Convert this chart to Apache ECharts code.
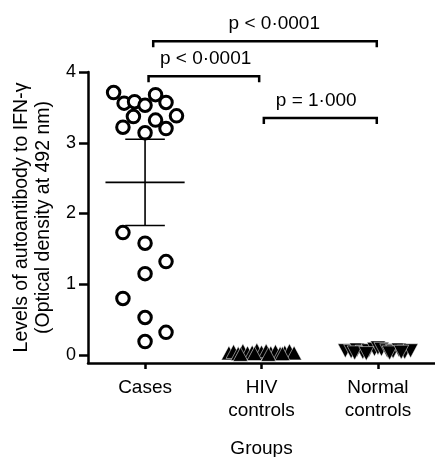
<!DOCTYPE html>
<html><head><meta charset="utf-8">
<script src="https://cdn.jsdelivr.net/npm/echarts@6/dist/echarts.min.js"></script>
<style>html,body{margin:0;padding:0;background:#fff}#c{width:435px;height:457px}</style>
</head><body><div id="c"></div>
<script>
// ---- data ----
const categories = ['Cases', 'HIV\ncontrols', 'Normal\ncontrols'];
const yTickValues = [0, 1, 2, 3, 4];

// Cases (group 0): jitter offsets and OD values
const casesOffsets = [-0.27, -0.18, -0.09, 0.00, 0.09, 0.18, 0.27, -0.10, 0.09, -0.19, 0.00, 0.18, -0.19, 0.00, 0.18, 0.00, -0.19, 0.00, 0.18, 0.00];
const casesValues  = [3.71, 3.56, 3.58, 3.53, 3.68, 3.57, 3.38, 3.37, 3.32, 3.22, 3.14, 3.20, 1.73, 1.58, 1.32, 1.15, 0.80, 0.53, 0.32, 0.19];

// HIV controls (group 1)
const hivOffsets = [-0.28, -0.24, -0.20, -0.16, -0.12, -0.08, -0.04, 0.00, 0.04, 0.08, 0.12, 0.16, 0.20, 0.24, 0.28, -0.18, -0.06, 0.06, 0.18];
const hivValues  = [0.03, 0.05, 0.02, 0.06, 0.03, 0.04, 0.07, 0.04, 0.06, 0.03, 0.05, 0.02, 0.04, 0.06, 0.03, 0.01, 0.02, 0.01, 0.02];

// Normal controls (group 2)
const normalOffsets = [-0.28, -0.23, -0.18, -0.13, -0.08, -0.03, 0.00, 0.03, 0.08, 0.13, 0.18, 0.23, 0.28, -0.20, -0.10, 0.10, 0.20];
const normalValues  = [0.06, 0.05, 0.07, 0.04, 0.06, 0.08, 0.10, 0.08, 0.06, 0.05, 0.07, 0.04, 0.06, 0.03, 0.02, 0.03, 0.04];

// Summary for Cases: mean and error bar limits
const summaryGroup = [0];
const summaryMean  = [2.44];
const summaryLow   = [1.83];
const summaryHigh  = [3.05];

// Significance brackets
const bracketStart = [0.07, 0.03, 1.02];
const bracketEnd   = [1.99, 0.98, 1.99];
const bracketLevel = [4.435, 3.94, 3.35];
const bracketLabelX = [1.11, 0.52, 1.47];
const bracketText  = ['p < 0\u00B70001', 'p < 0\u00B70001', 'p = 1\u00B7000'];

// ---- chart ----
const FONT = "'Liberation Sans', Arial, Helvetica, sans-serif";
const chart = echarts.init(document.getElementById('c'), null, {renderer: 'canvas'});

const casesData = casesValues.map((v, i) => [0 + casesOffsets[i], v]);
const hivData = hivValues.map((v, i) => [1 + hivOffsets[i], v]);
const normalData = normalValues.map((v, i) => [2 + normalOffsets[i], v]);
const summaryData = summaryGroup.map((g, i) => [g, summaryMean[i], summaryLow[i], summaryHigh[i]]);
const bracketData = bracketStart.map((s, i) => [s, bracketEnd[i], bracketLevel[i], bracketLabelX[i], i]);

chart.setOption({
  animation: false,
  backgroundColor: '#fff',
  grid: {left: 88, right: 0, top: 72, bottom: 94, containLabel: false, outerBoundsMode: 'none'},
  xAxis: {
    type: 'value', min: -0.49, max: 2.49,
    splitLine: {show: false},
    axisLine: {show: true, onZero: false, lineStyle: {color: '#000', width: 2.5}},
    axisTick: {show: true, length: 6, customValues: [0, 1, 2], lineStyle: {color: '#000', width: 2.5}},
    axisLabel: {
      customValues: [0, 1, 2],
      formatter: v => categories[Math.round(v)],
      color: '#000', fontFamily: FONT, fontSize: 19, lineHeight: 23, margin: 13
    },
    name: 'Groups', nameLocation: 'middle', nameGap: 76,
    nameTextStyle: {color: '#000', fontFamily: FONT, fontSize: 19}
  },
  yAxis: {
    type: 'value', min: -0.113, max: 4,
    splitLine: {show: false},
    axisLine: {show: true, onZero: false, lineStyle: {color: '#000', width: 2.5}},
    axisTick: {show: true, length: 9, customValues: yTickValues, lineStyle: {color: '#000', width: 2.5}},
    axisLabel: {customValues: yTickValues, color: '#000', fontFamily: FONT, fontSize: 18, margin: 12},
    name: 'Levels of autoantibody to IFN-\u03B3\n(Optical density at 492 nm)',
    nameLocation: 'middle', nameGap: 33, nameRotate: 90,
    nameTextStyle: {color: '#000', fontFamily: FONT, fontSize: 19.5, lineHeight: 22}
  },
  series: [
    {
      type: 'custom', name: 'summary', data: summaryData, clip: false, z: 1,
      renderItem: (params, api) => {
        const g = api.value(0);
        const m = api.coord([g - 0.34, api.value(1)]);
        const m2 = api.coord([g + 0.34, api.value(1)]);
        const lo1 = api.coord([g - 0.17, api.value(2)]);
        const lo2 = api.coord([g + 0.17, api.value(2)]);
        const hi1 = api.coord([g - 0.17, api.value(3)]);
        const hi2 = api.coord([g + 0.17, api.value(3)]);
        const c1 = api.coord([g, api.value(2)]);
        const c2 = api.coord([g, api.value(3)]);
        const st = {stroke: '#000', lineWidth: 1.6, fill: null};
        return {type: 'group', children: [
          {type: 'line', shape: {x1: m[0], y1: m[1], x2: m2[0], y2: m2[1]}, style: st},
          {type: 'line', shape: {x1: lo1[0], y1: lo1[1], x2: lo2[0], y2: lo2[1]}, style: st},
          {type: 'line', shape: {x1: hi1[0], y1: hi1[1], x2: hi2[0], y2: hi2[1]}, style: st},
          {type: 'line', shape: {x1: c1[0], y1: c1[1], x2: c2[0], y2: c2[1]}, style: st}
        ]};
      }
    },
    {
      type: 'scatter', name: 'Cases', data: casesData, symbol: 'circle', symbolSize: 12.5, z: 3,
      itemStyle: {color: '#fff', borderColor: '#000', borderWidth: 3, opacity: 1}
    },
    {
      type: 'scatter', name: 'HIV controls', data: hivData, symbol: 'triangle', symbolSize: [15, 14], z: 3, clip: false,
      itemStyle: {color: '#000', borderColor: '#fff', borderWidth: 0.5, opacity: 1}
    },
    {
      type: 'scatter', name: 'Normal controls', data: normalData, symbol: 'triangle', symbolRotate: 180, symbolSize: [15, 14], z: 3, clip: false,
      itemStyle: {color: '#000', borderColor: '#fff', borderWidth: 0.5, opacity: 1}
    },
    {
      type: 'custom', name: 'brackets', data: bracketData, clip: false, z: 4,
      renderItem: (params, api) => {
        const y = api.value(2);
        const a = api.coord([api.value(0), y]);
        const b = api.coord([api.value(1), y]);
        const lab = api.coord([api.value(3), y]);
        const drop = 6;
        return {type: 'group', children: [
          {type: 'polyline', shape: {points: [[a[0], a[1] + drop], [a[0], a[1]], [b[0], b[1]], [b[0], b[1] + drop]]},
           style: {stroke: '#000', lineWidth: 2.5, fill: null}},
          {type: 'text', x: lab[0], y: lab[1] - 17.5,
           style: {text: bracketText[api.value(4)], fill: '#000', font: '19px ' + FONT, align: 'center', verticalAlign: 'middle'}}
        ]};
      }
    }
  ]
});
</script></body></html>
